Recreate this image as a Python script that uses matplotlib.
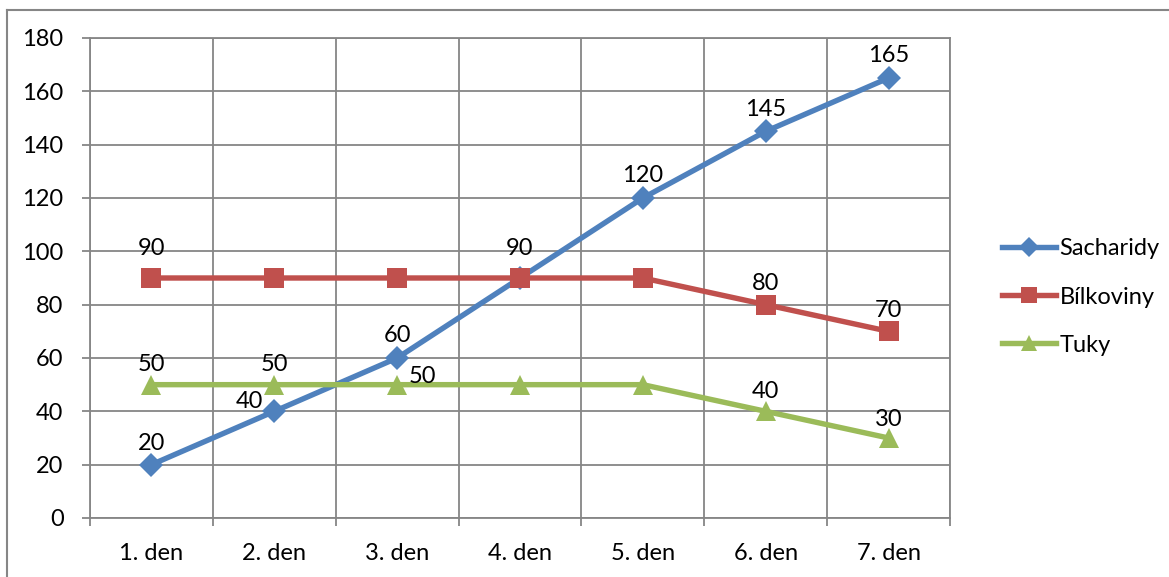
import matplotlib
matplotlib.use("Agg")
import matplotlib.pyplot as plt
from matplotlib.lines import Line2D

plt.rcParams['font.family'] = ['Lato', 'DejaVu Sans']

days = ["1. den", "2. den", "3. den", "4. den", "5. den", "6. den", "7. den"]
sacharidy = [20, 40, 60, 90, 120, 145, 165]
bilkoviny = [90, 90, 90, 90, 90, 80, 70]
tuky = [50, 50, 50, 50, 50, 40, 30]
y_ticks = [0, 20, 40, 60, 80, 100, 120, 140, 160, 180]

# which points carry a value label, and where it sits (pixel offset)
sach_labels = {0: (0, 21), 1: (-25, 10), 2: (0, 22), 4: (0, 22), 5: (0, 22), 6: (0, 22)}
bilk_labels = {0: (0, 29), 3: (0, 29), 5: (0, 21), 6: (0, 21)}
tuky_labels = {0: (0, 20), 1: (0, 20), 2: (25, 8), 5: (0, 20), 6: (0, 19)}

BLUE = "#4F81BD"
RED = "#C0504D"
GREEN = "#9BBB59"
GRID = "#868686"
FS = 17

fig = plt.figure(figsize=(11.69, 5.77), dpi=100)
ax = fig.add_axes([90 / 1169, 1 - 518 / 577, (950 - 90) / 1169, (518 - 38) / 577])

x = list(range(len(days)))
series = [
    (sacharidy, "Sacharidy", BLUE, "D", 12.5, sach_labels),
    (bilkoviny, "Bílkoviny", RED, "s", 14.5, bilk_labels),
    (tuky, "Tuky", GREEN, "^", 15, tuky_labels),
]
for vals, name, col, mk, ms, labels in series:
    ax.plot(x, vals, color=col, lw=3.9, marker=mk, markersize=ms,
            markeredgewidth=0, label=name, zorder=3, solid_capstyle="round")

for vals, name, col, mk, ms, labels in series:
    for i, (dx, dy) in labels.items():
        ax.annotate(str(vals[i]), (x[i], vals[i]), xytext=(dx, dy),
                    textcoords="offset pixels", ha="center", va="center",
                    fontsize=FS, color="black", zorder=5)

ax.set_xlim(-0.5, len(days) - 0.5)
ax.set_ylim(0, 180)
ax.set_yticks(y_ticks)
ax.set_xticks(x)
ax.set_xticklabels(days)
ax.set_xticks([i - 0.5 for i in range(len(days) + 1)], minor=True)

ax.tick_params(axis="x", which="major", length=0, pad=18, labelsize=FS)
ax.tick_params(axis="x", which="minor", length=6, width=1.3, color=GRID)
ax.tick_params(axis="y", which="major", length=6, width=1.3, color=GRID,
               pad=13, labelsize=FS)

ax.grid(False)
ax.yaxis.grid(True, which="major", color=GRID, lw=1.3)
ax.xaxis.grid(True, which="minor", color=GRID, lw=1.3)
ax.set_axisbelow(True)
for sp in ax.spines.values():
    sp.set_color(GRID)
    sp.set_linewidth(1.3)

handles = [Line2D([], [], color=c, lw=3.9, marker=m, markersize=s * 0.8,
                  markeredgewidth=0) for _, _, c, m, s, _ in series]
fig.legend(handles, [s[1] for s in series], loc="center left",
           bbox_to_anchor=(990 / 1169, 1 - 297 / 577), frameon=False,
           fontsize=FS, handlelength=2.3, handletextpad=0.15,
           labelspacing=1.15, borderpad=0)

# chart border (left and top edges)
fig.add_artist(Line2D([7 / 1169, 7 / 1169], [0, 1 - 10 / 577], color=GRID, lw=1.5,
                      transform=fig.transFigure))
fig.add_artist(Line2D([7 / 1169, 1], [1 - 10 / 577, 1 - 10 / 577], color=GRID, lw=1.5,
                      transform=fig.transFigure))

fig.savefig("out.png", dpi=100)
